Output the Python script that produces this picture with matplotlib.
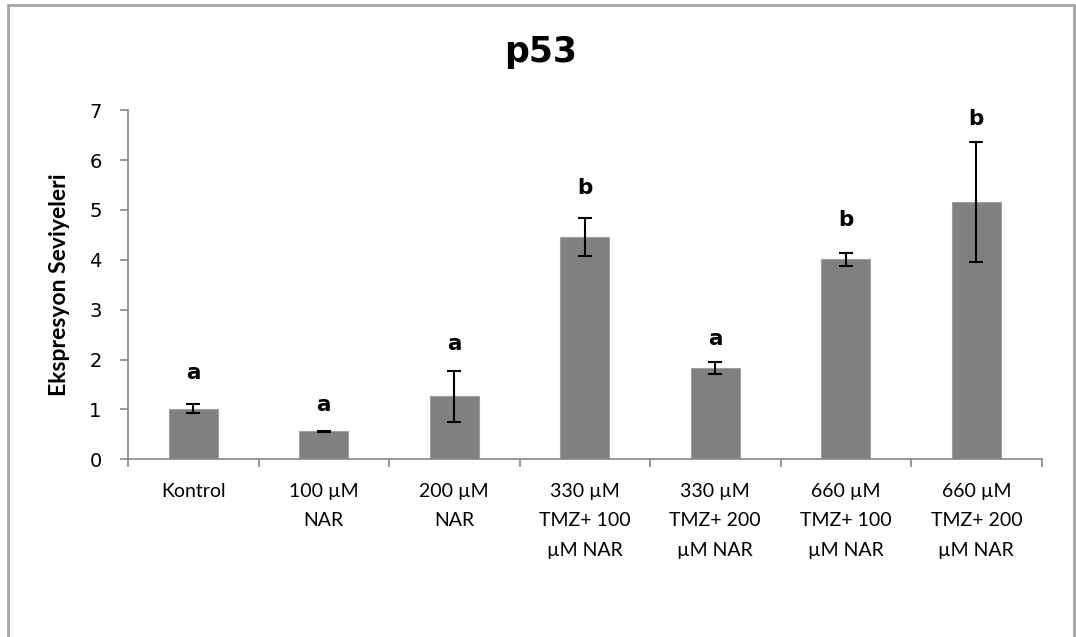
import numpy as np
import matplotlib
matplotlib.use('Agg')
from matplotlib import pyplot as plt
from matplotlib.patches import Rectangle

# values
categories = ['Kontrol', '100 µM\nNAR', '200 µM\nNAR', '330 µM\nTMZ+ 100\nµM NAR',
              '330 µM\nTMZ+ 200\nµM NAR', '660 µM\nTMZ+ 100\nµM NAR', '660 µM\nTMZ+ 200\nµM NAR']
expression = [1.01, 0.56, 1.26, 4.45, 1.84, 4.01, 5.16]
errors = [0.09, 0.01, 0.51, 0.38, 0.12, 0.13, 1.20]
letters = ['a', 'a', 'a', 'b', 'a', 'b', 'b']
letter_y = [1.74, 1.08, 2.32, 5.43, 2.42, 4.79, 6.83]
yticks = [0, 1, 2, 3, 4, 5, 6, 7]

narrow = ['Lato', 'DejaVu Sans']
axisGray = '#868686'

fig = plt.figure(figsize=(10.76, 6.37), dpi=100)
ax = fig.add_axes([0.119, 0.279, 0.849, 0.548])

x = np.arange(len(categories))
ax.bar(x, expression, width=0.375, color='#808080', edgecolor='#a0a0a0', linewidth=0.8, zorder=2)
ax.errorbar(x, expression, yerr=errors, fmt='none', ecolor='black', elinewidth=1.5,
            capsize=5, capthick=1.5, zorder=3)

for xi, lab, ly in zip(x, letters, letter_y):
    ax.text(xi, ly, lab, ha='center', va='center', fontsize=15.5, fontweight='bold',
            family='DejaVu Sans')

ax.set_xlim(-0.5, len(categories) - 0.5)
ax.set_ylim(0, 7)
ax.set_yticks(yticks)
ax.set_yticklabels([str(v) for v in yticks], fontsize=14, family='DejaVu Sans')

ax.set_xticks(x)
ax.set_xticklabels(categories, fontsize=14, family=narrow, linespacing=1.9)
ax.set_xticks(np.arange(-0.5, len(categories)), minor=True)
ax.tick_params(axis='x', which='major', length=0, pad=17)
ax.tick_params(axis='x', which='minor', length=6, width=1.2, color=axisGray, direction='out')
ax.tick_params(axis='y', length=6, width=1.2, color=axisGray, direction='out', pad=13)

for side in ['top', 'right']:
    ax.spines[side].set_visible(False)
for side in ['left', 'bottom']:
    ax.spines[side].set_color(axisGray)
    ax.spines[side].set_linewidth(1.2)

ax.set_ylabel('Ekspresyon Seviyeleri', fontsize=16.5, fontweight='bold', family=narrow)
ax.yaxis.set_label_coords(-0.063, 0.5)

fig.text(0.502, 0.918, 'p53', ha='center', va='center', fontsize=25, fontweight='bold',
         family='DejaVu Sans')

# outer chart frame
fig.patches.append(Rectangle((0.0075, -0.02), 0.991, 1.012, transform=fig.transFigure,
                             fill=False, edgecolor='#a6a6a6', linewidth=2))

fig.savefig('out.png', dpi=100)
